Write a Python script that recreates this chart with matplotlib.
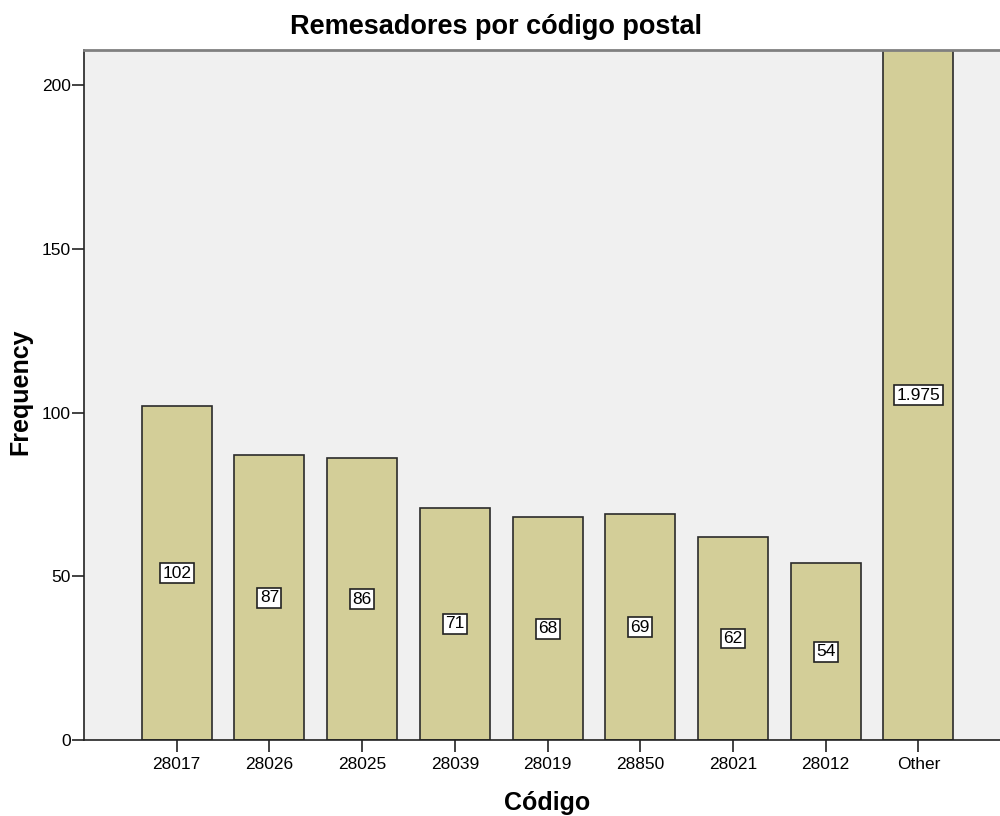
import matplotlib
matplotlib.use("Agg")
import matplotlib.pyplot as plt

categories = ["28017", "28026", "28025", "28039", "28019", "28850", "28021", "28012", "Other"]
counts = [102, 87, 86, 71, 68, 69, 62, 54, 1975]
yticks = [0, 50, 100, 150, 200]

plt.rcParams['font.family'] = ['Liberation Sans', 'DejaVu Sans']

fig = plt.figure(figsize=(10, 8.16), dpi=100)
ax = fig.add_axes([0.084, 0.0931, 0.916, 0.8456])
ax.set_facecolor('#F0F0F0')

ymax = 210.7
x = list(range(len(categories)))
ax.bar(x, counts, width=0.755, color='#D3CE98', edgecolor='#2b2b2b', linewidth=1.2, zorder=2)
ax.set_xlim(-1.0, 8.88)
ax.set_ylim(0, ymax)

def fmt(v):
    return f"{v:,}".replace(",", ".")

for xi, v in zip(x, counts):
    ymid = min(v, ymax) / 2
    ax.text(xi, ymid, fmt(v), ha='center', va='center', fontsize=12.5, zorder=3,
            bbox=dict(boxstyle='square,pad=0.14', facecolor='white', edgecolor='#222222', linewidth=1.2))

ax.set_xticks(x)
ax.set_xticklabels(categories, fontsize=12.5)
ax.set_yticks(yticks)
ax.set_yticklabels([str(t) for t in yticks], fontsize=12.5)
ax.tick_params(axis='both', direction='out', length=8.5, width=1.2, color='#222222', pad=3)
ax.tick_params(axis='x', pad=4)
ax.tick_params(axis='y', pad=1)

ax.spines['right'].set_visible(False)
ax.spines['top'].set_color('#808080')
ax.spines['top'].set_linewidth(2)
for s in ['left', 'bottom']:
    ax.spines[s].set_color('#222222')
    ax.spines[s].set_linewidth(1.2)

fig.text(0.496, 1 - 27 / 816, "Remesadores por código postal", fontsize=19.5, fontweight='bold',
         ha='center', va='center')
fig.text(0.547, 1 - 803 / 816, "Código", fontsize=18, fontweight='bold', ha='center', va='center')
fig.text(0.020, 1 - 392 / 816, "Frequency", fontsize=18, fontweight='bold', ha='center', va='center',
         rotation=90)

fig.savefig("out.png", dpi=100)
